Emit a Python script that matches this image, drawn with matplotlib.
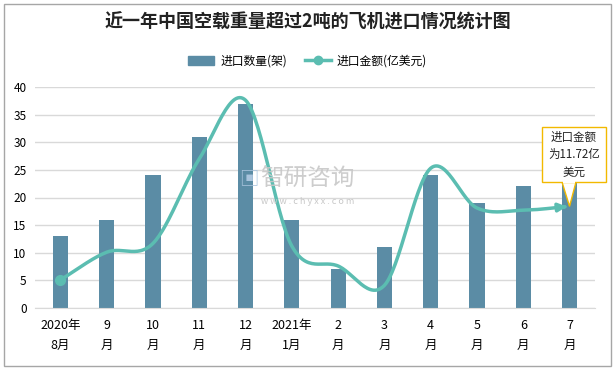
import numpy as np
import matplotlib
matplotlib.use("Agg")
import matplotlib.pyplot as plt
from matplotlib.patches import Rectangle, Polygon

plt.rcParams['font.family'] = ['Noto Sans CJK SC', 'DejaVu Sans']

months = ["2020年\n8月", "9\n月", "10\n月", "11\n月", "12\n月", "2021年\n1月",
          "2\n月", "3\n月", "4\n月", "5\n月", "6\n月", "7\n月"]
counts = [13, 16, 24, 31, 37, 16, 7, 11, 24, 19, 22, 23]
amounts = [5.1, 10.1, 11.7, 27.0, 37.6, 11.2, 7.6, 4.1, 25.3, 18.1, 17.7, 18.4]
yticks = [0, 5, 10, 15, 20, 25, 30, 35, 40]

bar_color = "#5B8CA5"
line_color = "#5BBDB1"
W, H = 615, 369

fig = plt.figure(figsize=(6.15, 3.69), dpi=100)
ax = fig.add_axes([35/W, 1-308/H, (595-35)/W, (308-87)/H])

x = np.arange(len(months))
ax.bar(x, counts, width=0.33, color=bar_color, zorder=2)

# Catmull-Rom style smoothing of the line (rendering only)
def smooth(xs, ys, n=30):
    xs = np.asarray(xs, float); ys = np.asarray(ys, float)
    P = np.column_stack([xs, ys])
    P = np.vstack([2*P[0]-P[1], P, 2*P[-1]-P[-2]])
    out = []
    for i in range(1, len(P)-2):
        p0, p1, p2, p3 = P[i-1], P[i], P[i+1], P[i+2]
        t = np.linspace(0, 1, n, endpoint=False)[:, None]
        m1 = (p2 - p0) / 2; m2 = (p3 - p1) / 2
        h00 = 2*t**3 - 3*t**2 + 1; h10 = t**3 - 2*t**2 + t
        h01 = -2*t**3 + 3*t**2; h11 = t**3 - t**2
        out.append(h00*p1 + h10*m1 + h01*p2 + h11*m2)
    out.append(P[-2][None, :])
    return np.vstack(out)

S = smooth(x, amounts)
ax.plot(S[:-3, 0], S[:-3, 1], color=line_color, lw=2.5, zorder=3, solid_capstyle='round')
ax.annotate("", xy=(S[-1, 0], S[-1, 1]), xytext=(S[-6, 0], S[-6, 1]),
            arrowprops=dict(arrowstyle="-|>", color=line_color, lw=2.5, mutation_scale=12), zorder=3)
ax.plot([x[0]], [amounts[0]], 'o', color=line_color, ms=7, zorder=4)

ax.set_ylim(0, 40)
ax.set_xlim(-0.55, len(months)-0.45)
ax.set_yticks(yticks)
ax.set_xticks(x)
ax.set_xticklabels(months, fontsize=9, linespacing=1.7)
ax.tick_params(axis='y', length=0, labelsize=8.5, pad=6)
ax.tick_params(axis='x', length=0, pad=8)
ax.grid(axis='y', color='#D9D9D9', lw=1, zorder=0)
for s in ['top', 'right', 'left']:
    ax.spines[s].set_visible(False)
ax.spines['bottom'].set_color('#D9D9D9')

# watermark
fig.text(0.5, 0.515, "智研咨询", fontsize=17, color='#C8C8C8', ha='center', va='center', alpha=0.9)
fig.text(0.5, 0.455, "w w w . c h y x x . c o m", fontsize=6.5, color='#C8C8C8', ha='center', va='center')
fig.text(0.405, 0.515, "▣", fontsize=14, color='#A9C4DD', ha='center', va='center')

# callout box
fig.canvas.draw()
tip = fig.transFigure.inverted().transform(ax.transData.transform((x[-1], amounts[-1])))
bx0, bx1, by0, by1 = 542/W, 606/W, 1-182/H, 1-127/H
fig.patches.append(Polygon([(562/W, by0), (576/W, by0), (tip[0], tip[1])], closed=True,
                           transform=fig.transFigure, fc='white', ec='#F2B900', lw=1, zorder=5))
fig.patches.append(Rectangle((bx0, by0), bx1-bx0, by1-by0, transform=fig.transFigure,
                             fc='white', ec='#F2B900', lw=1, zorder=6))
fig.patches.append(Rectangle((562.7/W, by0 - 0.5/H), 12.6/W, 2/H, transform=fig.transFigure,
                             fc='white', ec='none', zorder=7))
fig.text((bx0+bx1)/2, (by0+by1)/2, "进口金额\n为11.72亿\n美元", fontsize=8.3, ha='center',
         va='center', linespacing=1.45, zorder=8, color='#222222')

# title
fig.text(0.5, 1-22/H, "近一年中国空载重量超过2吨的飞机进口情况统计图", fontsize=13,
         fontweight='bold', ha='center', va='center', color='#222222')

# legend
from matplotlib.lines import Line2D
from matplotlib.patches import Patch
handles = [Patch(color=bar_color, label="进口数量(架)"),
           Line2D([0], [0], color=line_color, lw=2.5, marker='o', ms=6, label="进口金额(亿美元)")]
fig.legend(handles=handles, loc='center', bbox_to_anchor=(0.5, 1-61/H), ncol=2, frameon=False,
           fontsize=8.5, handlelength=2.2, columnspacing=1.5, handletextpad=0.5)

# border
fig.patches.append(Rectangle((4/W, 3/H), 607/W, 362/H, transform=fig.transFigure,
                             fill=False, ec='#A6A6A6', lw=1))

fig.savefig("out.png", dpi=100)
